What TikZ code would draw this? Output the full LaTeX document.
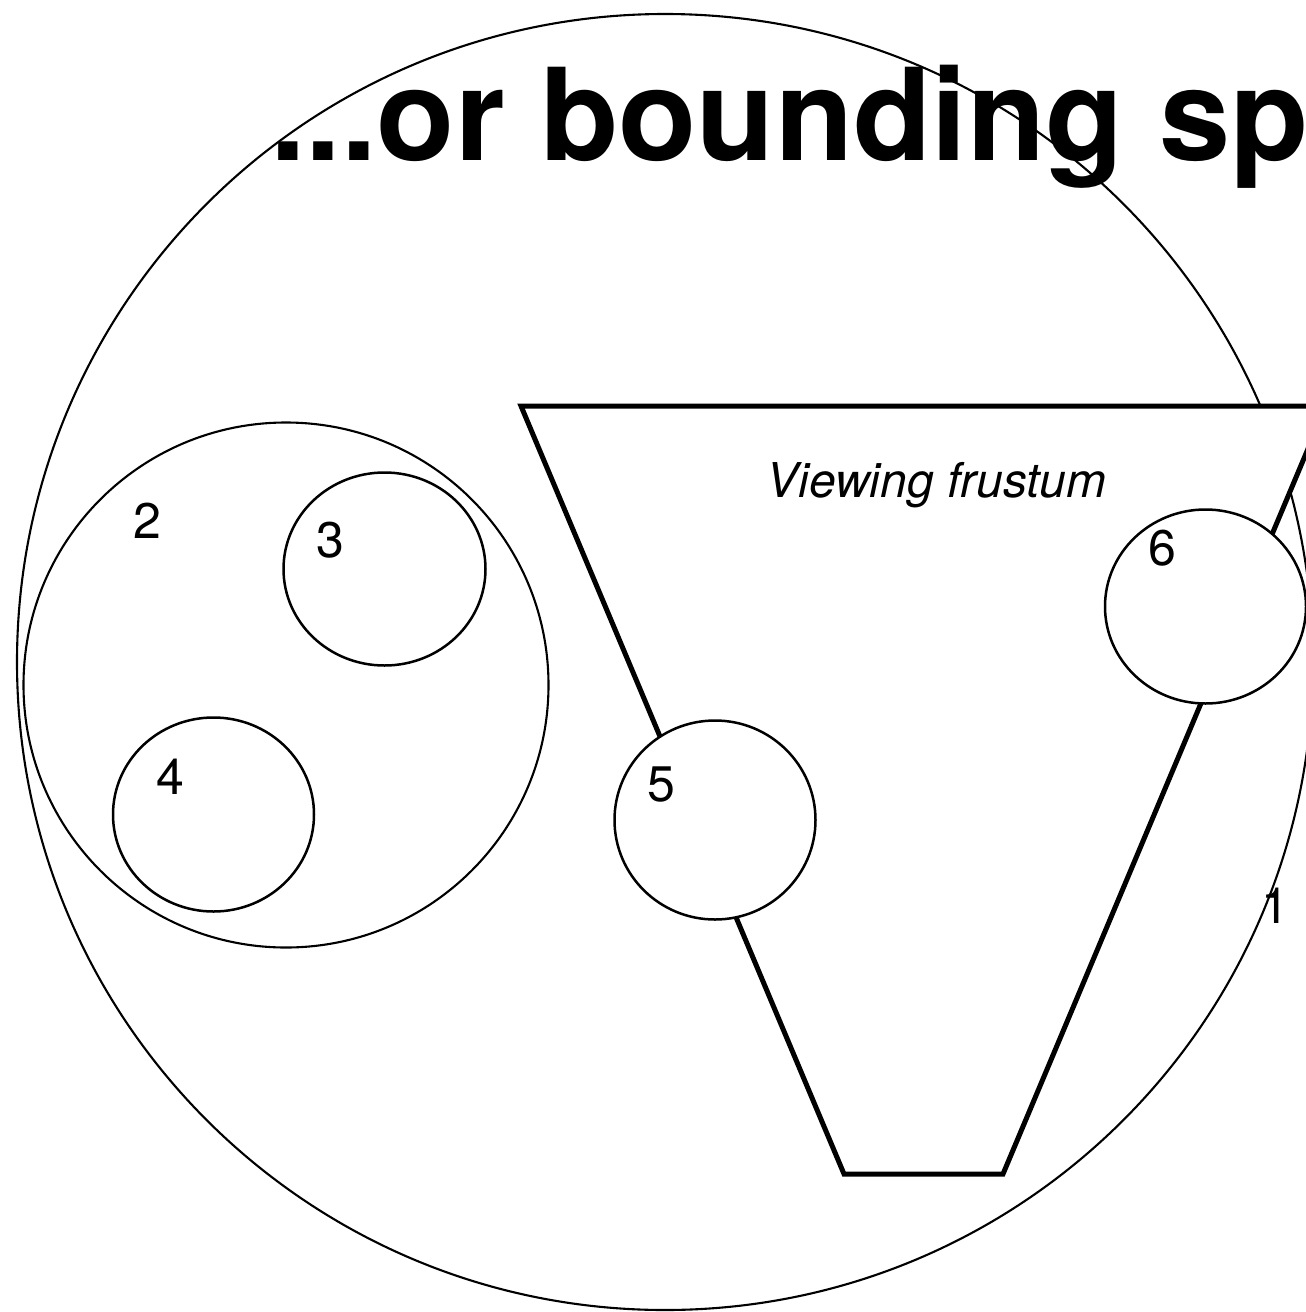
\documentclass[tikz,border=0pt]{standalone}
\usepackage{fontspec}
\setmainfont{TeX Gyre Heros}
\usetikzlibrary{shapes.geometric}
\begin{document}
\begin{tikzpicture}[x=1pt,y=-1pt,
  bigcirc/.style={circle, draw, line width=2.1pt, inner sep=0pt, minimum size=#1},
  smallcirc/.style={ellipse, draw, fill=white, line width=2.5pt, inner sep=0pt, minimum width=201pt, minimum height=195pt},
  num/.style={inner sep=0pt, font=\fontsize{50}{60}\selectfont},
  frustum/.style={draw, fill=white, line width=5pt, line join=miter},
  titlefont/.style={inner sep=0pt, anchor=base west, font=\fontsize{128}{150}\selectfont\bfseries}]
\useasboundingbox (0,0) rectangle (1306,1312);
\clip (0,0) rectangle (1306,1312);
% big bounding sphere
\node[bigcirc=1296pt] (c1) at (665,662) {};
% title
\node[titlefont] (title) at (270,160) {...or bounding sp};
% hierarchy spheres
\node[bigcirc=525pt] (c2) at (286,685) {};
\node[smallcirc, minimum width=202pt, minimum height=193pt] (c3) at (384.5,569) {};
\node[smallcirc, minimum height=194pt] (c4) at (213.5,814.5) {};
% frustum
\coordinate (ftl) at (521,406);
\coordinate (ftr) at (1326,406);
\coordinate (fbr) at (1003,1174);
\coordinate (fbl) at (844,1174);
\draw[frustum] (ftl) -- (ftr) -- (fbr) -- (fbl) -- cycle;
\node[num, anchor=base, font=\fontsize{48}{58}\selectfont\itshape] (vf) at (936.5,497) {Viewing frustum};
% spheres on frustum
\node[smallcirc, minimum height=199pt] (c5) at (715,820) {};
\node[smallcirc, minimum height=194pt] (c6) at (1205.5,606.5) {};
% labels
\node[num] (l1) at (1275,906) {1};
\node[num] (l2) at (147.5,521) {2};
\node[num] (l3) at (330,540) {3};
\node[num] (l4) at (170,777) {4};
\node[num] (l5) at (661,785) {5};
\node[num] (l6) at (1162,548) {6};
\end{tikzpicture}
\end{document}
